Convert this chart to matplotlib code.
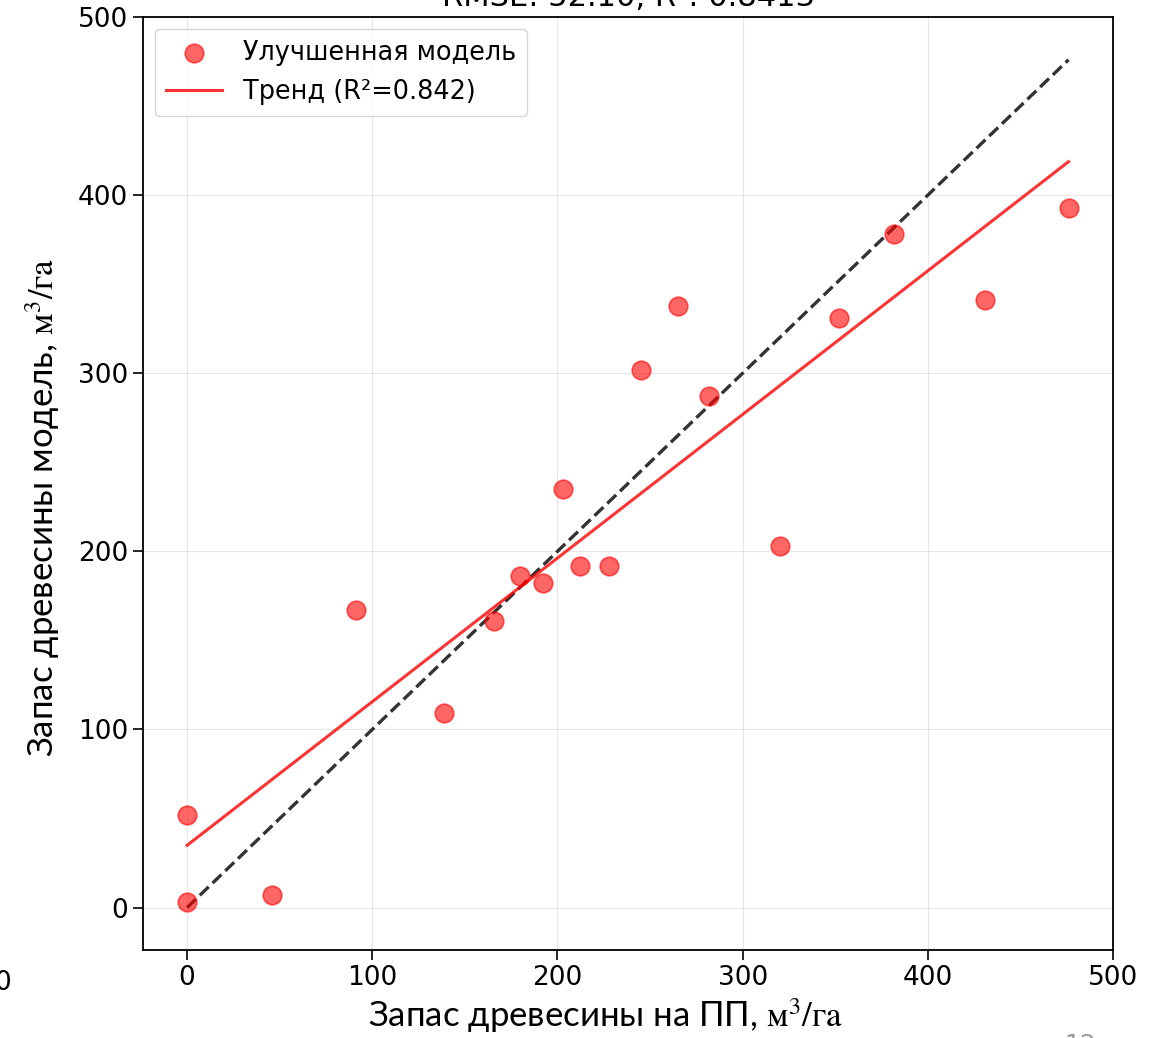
import matplotlib
matplotlib.use("Agg")
import matplotlib.pyplot as plt
import numpy as np

plt.rcParams.update({
    "font.family": "DejaVu Sans",
    "mathtext.fontset": "stix",
})

# Field plot stock vs. improved-model estimate, m3/ha
plot_stock = [0, 0, 46, 91, 139, 166, 180, 192, 203, 212, 228, 245, 265, 282, 320, 352, 382, 431, 476]
model_stock = [52, 3, 7, 167, 109, 161, 186, 182, 235, 192, 192, 302, 338, 287, 203, 331, 378, 341, 393]
r2_label = 0.842
title_text = "RMSE: 52.10, R²: 0.8413"

x = np.array(plot_stock, dtype=float)
y = np.array(model_stock, dtype=float)
slope, intercept = np.polyfit(x, y, 1)

W, H = 1158, 1038
fig = plt.figure(figsize=(W / 100, H / 100), dpi=100)
ax = fig.add_axes([143 / W, 1 - 950 / H, (1113 - 143) / W, (950 - 17) / H])

ax.scatter(x, y, s=180, color="red", alpha=0.6, edgecolors="red", linewidths=1.2,
           label="Улучшенная модель", zorder=3)
ax.plot([0, x.max()], [0, x.max()], "--", color="black", alpha=0.8, lw=2.4, zorder=2)
xs = np.array([0, x.max()])
ax.plot(xs, slope * xs + intercept, color="red", alpha=0.8, lw=2.2,
        label=f"Тренд (R²={r2_label:.3f})", zorder=2)

lo = -0.05 * x.max()
ax.set_xlim(lo, 500)
ax.set_ylim(lo, 500)
ax.set_xticks([0, 100, 200, 300, 400, 500])
ax.set_yticks([0, 100, 200, 300, 400, 500])
ax.grid(True, alpha=0.3)
ax.tick_params(labelsize=19, length=7, width=1.2)
for s in ax.spines.values():
    s.set_linewidth(1.3)

label_font = dict(fontsize=25, family=["Lato", "DejaVu Sans"])
unit = r"$\mathrm{м}^3/\mathrm{га}$"
ax.set_xlabel("Запас древесины на ПП, " + unit, **label_font)
ax.set_ylabel("Запас древесины модель, " + unit, **label_font)
ax.xaxis.set_label_coords((605 - 143) / 970, (950 - 996) / 933)
ax.yaxis.set_label_coords((62 - 143) / 970, (950 - 508) / 933)

ax.legend(loc="upper left", fontsize=18.4, framealpha=0.8, borderpad=0.45,
          handlelength=2.2, borderaxespad=0.45)

fig.text(0.5 * (143 + 1113) / W, 1 - 6 / H, title_text, ha="center",
         va="baseline", fontsize=22)
fig.text(-6 / W, 1 - 990 / H, "0", fontsize=19, ha="left", va="baseline")
fig.text(1080 / W, 1 - 1052 / H, "12", fontsize=18, color="#999999", ha="center",
         va="baseline")

fig.savefig("out.png", dpi=100)
